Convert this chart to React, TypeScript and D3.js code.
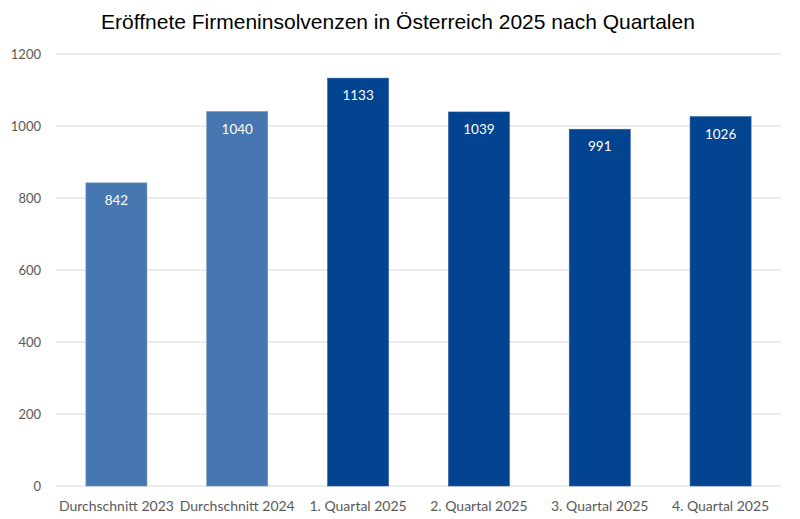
import React from "react";
import * as d3 from "d3";

const categories = ["Durchschnitt 2023", "Durchschnitt 2024", "1. Quartal 2025", "2. Quartal 2025", "3. Quartal 2025", "4. Quartal 2025"];
const values = [842, 1040, 1133, 1039, 991, 1026];
const isAverage = [true, true, false, false, false, false];
const yTicks = [0, 200, 400, 600, 800, 1000, 1200];
const title = "Eröffnete Firmeninsolvenzen in Österreich 2025 nach Quartalen";

const W = 800, H = 519;
const left = 56, right = 781, top = 54, bottom = 486;

export default function App() {
  const x = d3.scaleBand<string>().domain(categories).range([left, right]).paddingInner(0.495).paddingOuter(0.2475);
  const y = d3.scaleLinear().domain([0, 1200]).range([bottom, top]);
  const font = "Lato, 'Open Sans', sans-serif";
  return (
    <svg width={W} height={H} style={{ position: "absolute", left: 0, top: 0, background: "#fff" }}>
      <text x={398} y={29} textAnchor="middle" fontFamily="'Liberation Sans', Arial, sans-serif" fontSize={21} fill="#000">{title}</text>
      {yTicks.map(t => (
        <g key={t}>
          <line x1={left} x2={right} y1={y(t)} y2={y(t)} stroke="#d9d9d9" strokeWidth={1} />
          <text x={41} y={y(t) + 4.5} textAnchor="end" fontFamily={font} fontSize={13} fill="#595959">{t}</text>
        </g>
      ))}
      {categories.map((c, i) => (
        <g key={c}>
          <rect x={x(c)} y={y(values[i])} width={x.bandwidth()} height={y(0) - y(values[i])}
            fill={isAverage[i] ? "#4677b0" : "#02448f"} stroke={isAverage[i] ? "#6a92c2" : "#2a5ea0"} strokeWidth={0.6} />
          <text x={(x(c) as number) + x.bandwidth() / 2} y={y(values[i]) + 22} textAnchor="middle" fontFamily={font} fontSize={13.5} fill="#fff">{values[i]}</text>
          <text x={(x(c) as number) + x.bandwidth() / 2} y={511} textAnchor="middle" fontFamily={font} fontSize={14} fill="#595959">{c}</text>
        </g>
      ))}
    </svg>
  );
}
